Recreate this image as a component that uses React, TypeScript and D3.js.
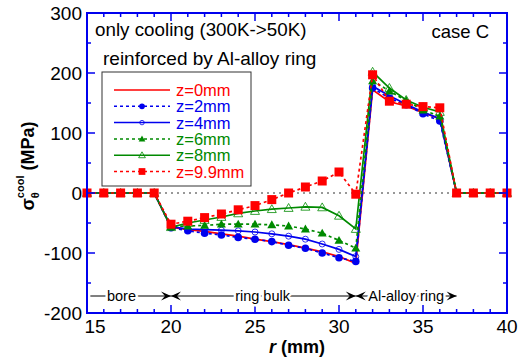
import React from "react";
import * as d3 from "d3";

// radius r (mm)
const rVals = [15, 16, 17, 18, 19, 20, 21, 22, 23, 24, 25, 26, 27, 28, 29, 30, 31, 32, 33, 34, 35, 36, 37, 38, 39, 40];

// hoop stress after cooling (MPa) for each height z
const z0 = [0, 0, 0, 0, 0, -57, -61, -64, -68, -72, -77, -81, -86, -92, -98, -106, -117, 172, 152, 145, 134, 124, 0, 0, 0, 0];
const z2 = [0, 0, 0, 0, 0, -58, -63, -67, -70, -74, -77, -81, -87, -92, -100, -108, -114, 175, 158, 147, 132, 120, 0, 0, 0, 0];
const z4 = [0, 0, 0, 0, 0, -56, -60, -61, -62, -63, -65, -68, -72, -77, -85, -94, -106, 178, 162, 148, 135, 124, 0, 0, 0, 0];
const z6 = [0, 0, 0, 0, 0, -56, -55, -54, -52, -52, -52, -53, -55, -60, -67, -79, -92, 187, 170, 154, 138, 128, 0, 0, 0, 0];
const z8 = [0, 0, 0, 0, 0, -57, -50, -45, -40, -34, -30, -27, -25, -23, -24, -38, -60, 202, 175, 155, 143, 135, 0, 0, 0, 0];
const z99 = [0, 0, 0, 0, 0, -52, -47, -41, -35, -28, -21, -11, 0, 10, 20, 35, -2, 197, 153, 148, 144, 142, 0, 0, 0, 0];

const labels = ["z=0mm", "z=2mm", "z=4mm", "z=6mm", "z=8mm", "z=9.9mm"];
const xTicks = [15, 20, 25, 30, 35, 40];
const yTicks = [-200, -100, 0, 100, 200, 300];

const RED = "#ff0000";
const BLUE = "#0000ee";
const GREEN = "#008a00";

type Marker = "none" | "dot" | "ring" | "tri" | "otri" | "sq";

const series: { vals: number[]; color: string; dash?: string; marker: Marker }[] = [
  { vals: z0, color: RED, marker: "none" },
  { vals: z2, color: BLUE, dash: "3,3", marker: "dot" },
  { vals: z4, color: BLUE, marker: "ring" },
  { vals: z6, color: GREEN, dash: "3,3", marker: "tri" },
  { vals: z8, color: GREEN, marker: "otri" },
  { vals: z99, color: RED, dash: "3,3", marker: "sq" },
];

const W = 520, H = 361;
const m = { left: 87, right: 13, top: 13, bottom: 48 };

function drawMarker(kind: Marker, color: string, cx: number, cy: number, s: number, key: string) {
  if (kind === "dot") return <circle key={key} cx={cx} cy={cy} r={3.8 * s} fill={color} />;
  if (kind === "ring") return <circle key={key} cx={cx} cy={cy} r={3 * s} fill="none" stroke={color} strokeWidth={0.8} />;
  if (kind === "tri" || kind === "otri") {
    const a = 4.5 * s;
    const pts = `${cx},${cy - a} ${cx - a},${cy + a * 0.75} ${cx + a},${cy + a * 0.75}`;
    return kind === "tri"
      ? <polygon key={key} points={pts} fill={color} />
      : <polygon key={key} points={pts} fill="none" stroke={color} strokeWidth={0.8} />;
  }
  if (kind === "sq") return <rect key={key} x={cx - 4.5 * s} y={cy - 4.5 * s} width={9 * s} height={9 * s} fill={color} />;
  return null;
}

function Arrow({ x, y, dir }: { x: number; y: number; dir: 1 | -1 }) {
  // tip at x, pointing in dir
  const l = 10 * dir;
  return <polygon points={`${x},${y} ${x - l},${y - 4.5} ${x - l * 0.6},${y} ${x - l},${y + 4.5}`} fill="#000" />;
}

export default function App() {
  const x = d3.scaleLinear().domain([15, 40]).range([m.left, W - m.right]);
  const y = d3.scaleLinear().domain([-200, 300]).range([H - m.bottom, m.top]);
  const x0 = x.range()[0], x1 = x.range()[1], y0 = y.range()[0], y1 = y.range()[1];

  const line = (vals: number[]) =>
    d3.line<number>().x((_, i) => x(rVals[i])).y((v) => y(v))(vals) || "";

  const font = "Liberation Sans, Arial, Helvetica, sans-serif";
  const annY = 296;

  return (
    <svg width={W} height={H} style={{ position: "absolute", left: 0, top: 0 }} fontFamily={font}>
      <rect width={W} height={H} fill="#fff" />
      {/* zero reference */}
      <line x1={x0} x2={x1} y1={y(0)} y2={y(0)} stroke="#777" strokeWidth={1.3} strokeDasharray="2,4" />

      {series.map((s, k) => (
        <g key={k}>
          <path d={line(s.vals)} fill="none" stroke={s.color} strokeWidth={1.7} strokeDasharray={s.dash} />
          {s.vals.map((v, i) => drawMarker(s.marker, s.color, x(rVals[i]), y(v), 1, `${k}-${i}`))}
        </g>
      ))}

      {/* frame & ticks */}
      <rect x={x0} y={y1} width={x1 - x0} height={y0 - y1} fill="none" stroke={BLUE} strokeWidth={2} />
      {d3.range(15, 41, 1).map((t) => {
        const len = t % 5 === 0 ? 8 : 4;
        return (
          <g key={"xt" + t} stroke={BLUE} strokeWidth={1.5}>
            <line x1={x(t)} x2={x(t)} y1={y0} y2={y0 - len} />
            <line x1={x(t)} x2={x(t)} y1={y1} y2={y1 + len} />
          </g>
        );
      })}
      {d3.range(-200, 301, 50).map((t) => {
        const len = t % 100 === 0 ? 8 : 4;
        return (
          <g key={"yt" + t} stroke={BLUE} strokeWidth={1.5}>
            <line x1={x0} x2={x0 + len} y1={y(t)} y2={y(t)} />
            <line x1={x1} x2={x1 - len} y1={y(t)} y2={y(t)} />
          </g>
        );
      })}
      {xTicks.map((t) => (
        <text key={"xl" + t} x={x(t) + (t === 15 ? 8 : 0)} y={y0 + 20} fontSize={19} textAnchor="middle">{t}</text>
      ))}
      {yTicks.map((t) => (
        <text key={"yl" + t} x={x0 - 5} y={y(t) + 7} fontSize={19} textAnchor="end">{t}</text>
      ))}

      {/* axis titles */}
      <text x={(x0 + x1) / 2} y={353} fontSize={18} fontWeight="bold" textAnchor="middle">
        <tspan fontStyle="italic">r</tspan> (mm)
      </text>
      <text transform="translate(34,166) rotate(-90)" fontSize={18} fontWeight="bold" textAnchor="middle">
        <tspan>σ</tspan>
        <tspan fontSize={11} dy={5}>θ</tspan>
        <tspan fontSize={11} dx={-6} dy={-15}>cool</tspan>
        <tspan dy={10}> (MPa)</tspan>
      </text>

      {/* annotations */}
      <text x={95} y={36} fontSize={18.8}>only cooling (300K-&gt;50K)</text>
      <text x={489} y={38} fontSize={18.5} textAnchor="end">case C</text>
      <text x={103} y={65} fontSize={19}>reinforced by Al-alloy ring</text>

      {/* legend */}
      <rect x={102} y={72} width={149} height={114} fill="#fff" stroke="#333" strokeWidth={1} />
      {series.map((s, k) => {
        const ly = 90 + k * 16.3;
        return (
          <g key={"lg" + k}>
            <line x1={114} x2={170} y1={ly} y2={ly} stroke={s.color} strokeWidth={1.5} strokeDasharray={s.dash} />
            {drawMarker(s.marker, s.color, 142, ly, 0.75, "lm" + k)}
            <text x={176} y={ly + 6} fontSize={16.5} fill={s.color}>{labels[k]}</text>
          </g>
        );
      })}

      {/* regions along r */}
      <g stroke="#000" strokeWidth={1}>
        <line x1={x(15.2)} x2={x(20)} y1={annY} y2={annY} />
        <line x1={x(20)} x2={x(31)} y1={annY} y2={annY} />
        <line x1={x(31)} x2={x(37)} y1={annY} y2={annY} />
      </g>
      <Arrow x={x(20)} y={annY} dir={1} />
      <Arrow x={x(20)} y={annY} dir={-1} />
      <Arrow x={x(31)} y={annY} dir={1} />
      <Arrow x={x(31)} y={annY} dir={-1} />
      <Arrow x={x(37)} y={annY} dir={1} />
      <g fontSize={14.5} stroke="#fff" strokeWidth={5} paintOrder="stroke" fill="#000">
        <text x={x(17.05)} y={annY + 5} textAnchor="middle">bore</text>
        <text x={x(25.45)} y={annY + 5} textAnchor="middle">ring bulk</text>
        <text x={x(34)} y={annY + 5} textAnchor="middle">Al-alloy ring</text>
      </g>
    </svg>
  );
}
